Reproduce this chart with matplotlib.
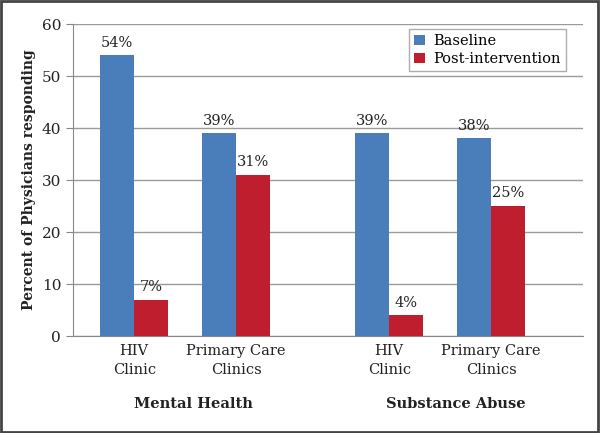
import matplotlib
matplotlib.use("Agg")
import matplotlib.pyplot as plt
from matplotlib.patches import Rectangle

plt.rcParams['font.family'] = ['DejaVu Serif']

categories = ["HIV\nClinic", "Primary Care\nClinics", "HIV\nClinic", "Primary Care\nClinics"]
groups = ["Mental Health", "Substance Abuse"]
baseline = [54, 39, 39, 38]
post = [7, 31, 4, 25]
series_names = ["Baseline", "Post-intervention"]
yticks = [0, 10, 20, 30, 40, 50, 60]

blue = '#4a7ebb'
red = '#be1e2d'

fig = plt.figure(figsize=(6.0, 4.33), dpi=100)
ax = fig.add_axes([73/600, 1-336/433, (583-73)/600, (336-24)/433])

xpos = [0, 1, 2.5, 3.5]
w = 0.333
b1 = ax.bar([x - w/2 for x in xpos], baseline, width=w, color=blue, label=series_names[0], zorder=3)
b2 = ax.bar([x + w/2 for x in xpos], post, width=w, color=red, label=series_names[1], zorder=3)

for rect, v in list(zip(b1, baseline)) + list(zip(b2, post)):
    ax.annotate(f"{v}%", (rect.get_x() + rect.get_width()/2, v), xytext=(0, 4),
                textcoords='offset points', ha='center', va='bottom', fontsize=10.5, color='#222222')

ax.set_xlim(-0.6, 4.4)
ax.set_ylim(0, 60)
ax.set_yticks(yticks)
ax.tick_params(axis='y', direction='out', length=5, color='#888888', labelsize=11, labelcolor='#222222')
ax.set_xticks(xpos)
ax.set_xticklabels(categories, fontsize=10.5, color='#222222', linespacing=1.45)
ax.tick_params(axis='x', length=0, pad=6)
ax.yaxis.grid(True, color='#9a9a9a', linewidth=1, zorder=0)
for s in ['top', 'right']:
    ax.spines[s].set_visible(False)
ax.spines['left'].set_color('#888888')
ax.spines['bottom'].set_color('#888888')

ax.set_ylabel("Percent of Physicians responding", fontsize=10, fontweight='bold', color='#222222', labelpad=4)

fig.text(193/600, 1-404/433, groups[0], ha='center', va='center', fontsize=10.5, fontweight='bold', color='#222222')
fig.text(456/600, 1-404/433, groups[1], ha='center', va='center', fontsize=10.5, fontweight='bold', color='#222222')

leg = ax.legend(loc='upper right', bbox_to_anchor=(566/600, 1-29/433), bbox_transform=fig.transFigure,
                borderaxespad=0, fontsize=10.5, frameon=True, fancybox=False, edgecolor='#999999',
                handlelength=0.7, handleheight=0.7, handletextpad=0.6, borderpad=0.35, labelspacing=0.25)
leg.get_frame().set_linewidth(1)

fig.patches.append(Rectangle((0.002, 0.003), 0.995, 0.994, transform=fig.transFigure,
                             fill=False, edgecolor='#444444', linewidth=2))

fig.savefig("out.png", dpi=100)
